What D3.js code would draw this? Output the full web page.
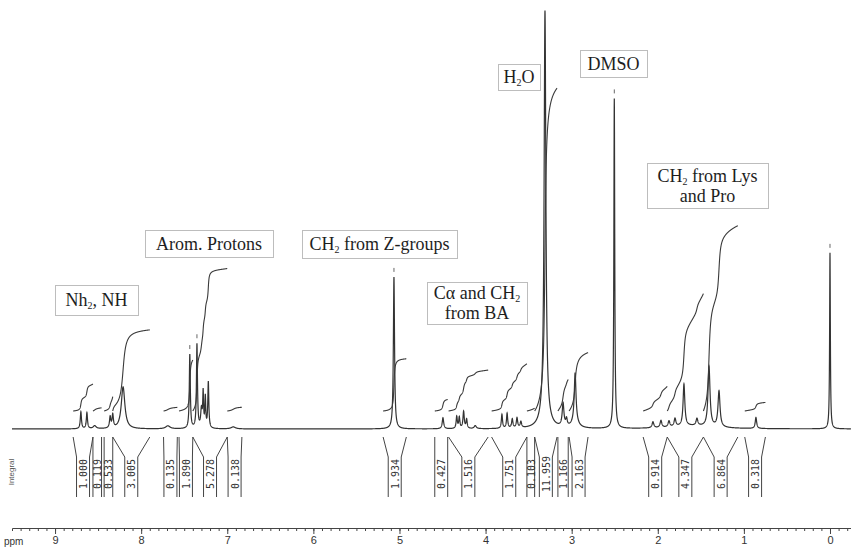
<!DOCTYPE html>
<html>
<head>
<meta charset="utf-8">
<script src="https://cdn.jsdelivr.net/npm/d3@7"></script>
<style>
body { margin: 0; background: #fff; }
svg { display: block; }
</style>
</head>
<body>
<svg id="nmr" width="851" height="547"></svg>
<script>
// peaks: shift (ppm), height above baseline, half width (ppm)
const peakPpm = [8.70, 8.63, 8.54, 8.36, 8.33, 8.21, 7.69,
    7.435, 7.352, 7.30, 7.28, 7.255, 7.22, 6.93,
    5.064,
    4.495, 4.335, 4.305, 4.255, 4.22, 4.12,
    3.81, 3.75, 3.69, 3.635, 3.59,
    3.31, 3.31, 3.10, 3.06, 2.96, 2.96,
    2.505,
    2.056, 1.963, 1.87, 1.80, 1.696, 1.545, 1.405, 1.289, 1.60,
    0.86, 0.0];
const peakHeight = [17, 16, 3, 11, 13, 42, 3,
    74, 84, 18, 34, 30, 46, 2,
    152,
    11, 12, 11, 17, 9, 3,
    14, 15, 9, 10, 6,
    402, 16, 23, 7, 48, 7,
    330,
    6, 7, 6, 8, 42, 7, 60, 36, 3,
    11, 176];
const peakWidth = [0.008, 0.008, 0.02, 0.009, 0.009, 0.025, 0.03,
    0.007, 0.007, 0.01, 0.006, 0.006, 0.007, 0.03,
    0.008,
    0.01, 0.008, 0.008, 0.009, 0.008, 0.015,
    0.008, 0.008, 0.009, 0.009, 0.01,
    0.012, 0.05, 0.012, 0.01, 0.012, 0.04,
    0.006,
    0.012, 0.012, 0.012, 0.012, 0.012, 0.012, 0.014, 0.014, 0.3,
    0.01, 0.005];

// peak pick marks above the strongest lines
const markerPpm = [7.435, 7.352, 5.064, 2.505, 0.0];

// integral regions (ppm) and their printed values
const integralFrom = [8.79, 8.56, 8.43, 8.33, 7.74, 7.56, 7.40, 7.00, 5.19, 4.59,
    4.43, 3.93, 3.52, 3.43, 3.16, 3.03, 2.17, 1.89, 1.47, 0.99];
const integralTo = [8.56, 8.46, 8.33, 7.90, 7.58, 7.40, 7.00, 6.83, 4.92, 4.44,
    3.97, 3.52, 3.43, 3.17, 3.04, 2.81, 1.89, 1.47, 1.07, 0.75];
const integralValue = [1.000, 0.119, 0.533, 3.005, 0.135, 1.890, 5.278, 0.138, 1.934, 0.427,
    1.516, 1.751, 0.103, 11.959, 1.166, 2.163, 0.914, 4.347, 6.864, 0.318];

const axisTicks = [9, 8, 7, 6, 5, 4, 3, 2, 1, 0];

// annotation texts, "_" marks a subscript digit
const noteLines = [
    ["Nh_2, NH"],
    ["Arom. Protons"],
    ["CH_2 from Z-groups"],
    ["C\u03b1 and CH_2", "from BA"],
    ["H_2O"],
    ["DMSO"],
    ["CH_2 from Lys", "and Pro"]
];

const width = 851;
const height = 547;
const svg = d3.select('#nmr');

const x = d3.scaleLinear().domain([9.5, -0.244]).range([12, 851]);
const y = d3.scaleLinear().domain([0, 420]).range([429, 9]);
const yInt = d3.scaleLinear().domain([0, 12]).range([411, 411 - 12 * 27]);

function intensity(p) {
    let s = 0;
    for (let i = 0; i < peakPpm.length; i++) {
        const d = (p - peakPpm[i]) / peakWidth[i];
        s += peakHeight[i] / (1 + d * d);
    }
    return s;
}

const step = 0.001;
const ppmPoints = d3.range(9.5, -0.244, -step);
const spectrum = ppmPoints.map(p => [p, intensity(p)]);

const line = d3.line()
    .x(d => x(d[0]))
    .y(d => y(d[1]));

svg.append('path')
    .datum(spectrum)
    .attr('fill', 'none')
    .attr('stroke', '#333')
    .attr('stroke-width', 1.2)
    .attr('d', line);

// peak marks
svg.selectAll('.mark')
    .data(markerPpm)
    .enter()
    .append('line')
    .attr('class', 'mark')
    .attr('x1', d => x(d))
    .attr('x2', d => x(d))
    .attr('y1', d => y(intensity(d)) - 9)
    .attr('y2', d => y(intensity(d)) - 5)
    .attr('stroke', '#666')
    .attr('stroke-width', 1);

// integral curves
const intLine = d3.line()
    .x(d => x(d[0]))
    .y(d => d[1]);

integralValue.forEach(function (val, i) {
    const pts = d3.range(integralFrom[i], integralTo[i] - step / 2, -step);
    let cum = 0;
    const raw = pts.map((p, j) => {
        if (j > 0) cum += (intensity(p) + intensity(pts[j - 1])) / 2;
        return [p, cum];
    });
    const curve = raw.map(d => [d[0], yInt(val * d[1] / cum)]);
    svg.append('path')
        .datum(curve)
        .attr('fill', 'none')
        .attr('stroke', '#3a3a3a')
        .attr('stroke-width', 1.1)
        .attr('d', intLine);
});

// integral brackets with labels
const bTop = 437, bKink = 457, bBottom = 497;
integralValue.forEach(function (val, i) {
    const x1 = x(integralFrom[i]);
    const x2 = x(integralTo[i]);
    const mid = (x1 + x2) / 2;
    const hw = Math.min((x2 - x1) / 2, 6.5);
    const g = svg.append('g').attr('class', 'bracket');
    g.append('path')
        .attr('d', `M${x1},${bTop}L${mid - hw},${bKink}L${mid - hw},${bBottom}`)
        .attr('fill', 'none')
        .attr('stroke', '#444')
        .attr('stroke-width', 1);
    g.append('path')
        .attr('d', `M${x2},${bTop}L${mid + hw},${bKink}L${mid + hw},${bBottom}`)
        .attr('fill', 'none')
        .attr('stroke', '#444')
        .attr('stroke-width', 1);
    g.append('text')
        .attr('transform', `translate(${mid + 0.5}, 474) rotate(-90)`)
        .attr('text-anchor', 'middle')
        .attr('dominant-baseline', 'central')
        .attr('font-family', 'DejaVu Sans Mono, monospace')
        .attr('font-size', '10px')
        .attr('fill', '#333')
        .text(val.toFixed(3));
});

svg.append('text')
    .attr('transform', 'translate(11, 472) rotate(-90)')
    .attr('text-anchor', 'middle')
    .attr('dominant-baseline', 'central')
    .attr('font-family', 'Liberation Sans, sans-serif')
    .attr('font-size', '8px')
    .attr('fill', '#555')
    .text('Integral');

// ppm axis
const axisY = 528;
const minorAxis = d3.axisBottom(x)
    .tickValues(d3.range(-2, 95).map(v => v / 10))
    .tickSize(3)
    .tickFormat('');
svg.append('g')
    .attr('transform', `translate(0, ${axisY})`)
    .call(minorAxis)
    .call(g => g.selectAll('line, path').attr('stroke', '#444'));

const majorAxis = d3.axisBottom(x)
    .tickValues(axisTicks)
    .tickSize(6)
    .tickPadding(2)
    .tickFormat(d3.format('d'));
svg.append('g')
    .attr('transform', `translate(0, ${axisY})`)
    .call(majorAxis)
    .call(g => g.select('.domain').remove())
    .call(g => g.selectAll('line').attr('stroke', '#444'))
    .call(g => g.selectAll('text')
        .attr('font-family', 'Liberation Sans, sans-serif')
        .attr('font-size', '11px')
        .attr('fill', '#333'));

svg.append('text')
    .attr('x', 4)
    .attr('y', 545)
    .attr('font-family', 'Liberation Sans, sans-serif')
    .attr('font-size', '10px')
    .attr('fill', '#333')
    .text('ppm');

// annotation boxes
const noteBox = [
    [55, 285, 83, 30],
    [145, 230, 128, 27],
    [302, 230, 155, 28],
    [427, 282, 100, 42],
    [498, 64, 42, 26],
    [580, 50, 67, 27],
    [647, 163, 121, 45]
];

function richText(sel, str) {
    const parts = str.split('_');
    sel.append('tspan').text(parts[0]);
    for (let k = 1; k < parts.length; k++) {
        sel.append('tspan')
            .attr('font-size', '10px')
            .attr('dy', 3)
            .text(parts[k].charAt(0));
        sel.append('tspan')
            .attr('dy', -3)
            .text(parts[k].slice(1));
    }
}

noteLines.forEach(function (lines, i) {
    const b = noteBox[i];
    svg.append('rect')
        .attr('x', b[0] + 0.5)
        .attr('y', b[1] + 0.5)
        .attr('width', b[2])
        .attr('height', b[3])
        .attr('fill', '#fff')
        .attr('stroke', '#bdbdbd')
        .attr('stroke-width', 1);
    const lh = 20;
    const firstBase = b[1] + b[3] / 2 - (lines.length - 1) * lh / 2 + 6;
    lines.forEach(function (ln, j) {
        const t = svg.append('text')
            .attr('x', b[0] + b[2] / 2)
            .attr('y', firstBase + j * lh)
            .attr('text-anchor', 'middle')
            .attr('font-family', 'Liberation Serif, serif')
            .attr('font-size', '18px')
            .attr('fill', '#1e1e1e');
        richText(t, ln);
    });
});
</script>
</body>
</html>
